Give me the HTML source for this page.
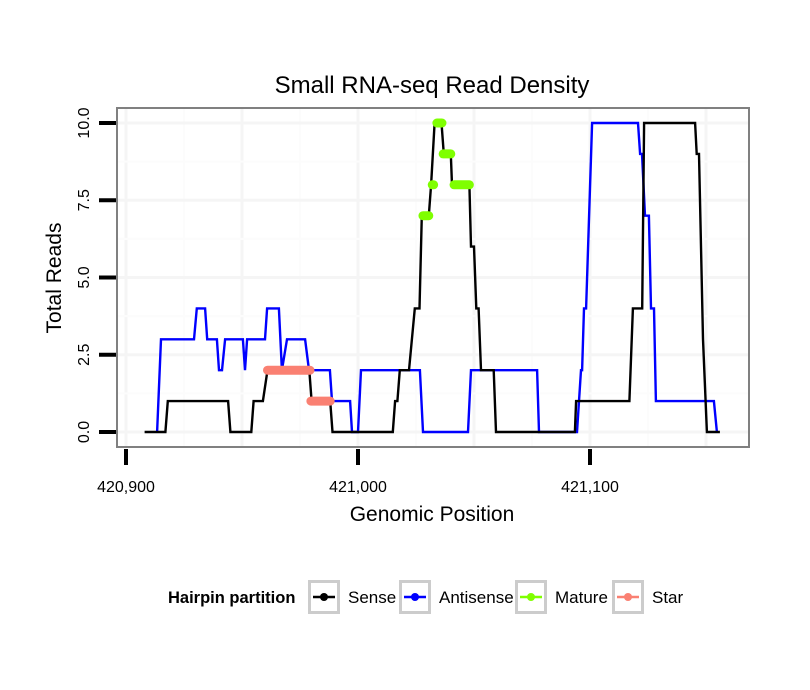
<!DOCTYPE html>
<html><head><meta charset="utf-8"><style>
body{margin:0;background:#fff;}
svg{display:block;font-family:"Liberation Sans",Arial,sans-serif;}
</style></head><body>
<svg id="chart" width="810" height="690" viewBox="0 0 810 690">
<rect x="0" y="0" width="810" height="690" fill="#fff"/>
<text x="432" y="93" text-anchor="middle" font-size="24" fill="#000">Small RNA-seq Read Density</text>
<g id="grid"></g>
<g id="series"></g>
<rect x="117" y="108" width="632" height="339" fill="none" stroke="#808080" stroke-width="2"/>
<g id="axes"></g>
<text x="432" y="521" text-anchor="middle" font-size="21">Genomic Position</text>
<text transform="translate(61,278) rotate(-90)" text-anchor="middle" font-size="21">Total Reads</text>
<g id="legend">
<text x="168" y="603" font-size="16.5" font-weight="bold">Hairpin partition</text>
</g>
</svg>
<script>
const xTicks=[420900,421000,421100];
const xTickLabels=["420,900","421,000","421,100"];
const yTicks=[0,2.5,5,7.5,10];
const yTickLabels=["0.0","2.5","5.0","7.5","10.0"];
const senseX=[420908,420917,420918,420944,420945,420954,420955,420959,420961,420979,420980,420988,420989,421015,421016,421017,421018,421022,421024.5,421026.5,421027.5,421030.5,421031.5,421033,421036,421037,421040,421040.5,421048,421048.7,421050,421051,421052,421053,421058.5,421059.5,421093.5,421094,421117,421118.5,421122.5,421123.3,421145.3,421146,421147,421148.7,421150.4,421156];
const senseY=[0,0,1,1,0,0,1,1,2,2,1,1,0,0,1,1,2,2,4,4,7,7,8,10,10,9,9,8,8,6,6,4,4,2,2,0,0,1,1,4,4,10,10,9,9,3,0,0];
const antiX=[420913.4,420915.1,420929.3,420930.5,420934.1,420935,420939.2,420940.1,420941.4,420942.7,420950.4,420951.3,420952.2,420959.9,420960.8,420965.9,420967.2,420969.4,420977.2,420978.9,420987.9,420988.8,420996.6,420997.4,421000,421001.3,421026.7,421028,421047.4,421048.7,421077.2,421078,421094.4,421096.1,421096.6,421097.4,421098.3,421100.9,421120.7,421121.6,421122.4,421123.7,421125.4,421126.3,421127.6,421128.4,421153.4,421154.7];
const antiY=[0,3,3,4,4,3,3,2,2,3,3,2,3,3,4,4,2,3,3,2,2,1,1,0,0,2,2,0,0,2,2,0,0,2,2,4,4,10,10,9,9,7,7,4,4,1,1,0];
const matureStart=[421028,421032,421034,421036.7,421041.4];
const matureEnd=[421030.5,421032.6,421036.2,421040,421048];
const matureY=[7,8,10,9,8];
const starStart=[420961,420979.7];
const starEnd=[420979.3,420988];
const starY=[2,1];
const legendLabels=["Sense","Antisense","Mature","Star"];
const legendColors=["#000000","#0000ff","#7fff00","#fa8072"];

const NS="http://www.w3.org/2000/svg";
function X(v){return 126+(v-420900)*2.32;}
function Y(v){return 432-v*30.9;}
function mk(tag,attrs,parent){const e=document.createElementNS(NS,tag);for(const k in attrs)e.setAttribute(k,attrs[k]);parent.appendChild(e);return e;}
const grid=document.getElementById('grid'),ser=document.getElementById('series'),axes=document.getElementById('axes'),leg=document.getElementById('legend');
for(let v=420900;v<=421150;v+=25){const x=X(v);if(x<118||x>748)continue;
 const l=mk('line',{x1:x,x2:x,y1:109,y2:446,stroke:v%50===0?'#f5f5f5':'#fcfcfc','stroke-width':v%50===0?3:2},grid);
 }
for(let v=0;v<=11;v+=1.25){const y=Y(v);if(y<109||y>446)continue;
 const l=mk('line',{x1:118,x2:748,y1:y,y2:y,stroke:(v%2.5===0)?'#f5f5f5':'#fcfcfc','stroke-width':(v%2.5===0)?3:2},grid);
 }
function path(xs,ys){return xs.map((x,i)=>(i?'L':'M')+X(x).toFixed(1)+','+Y(ys[i]).toFixed(1)).join('');}
const a=mk('path',{d:path(antiX,antiY),fill:'none',stroke:'#0000ff','stroke-width':2.4},ser);

const s=mk('path',{d:path(senseX,senseY),fill:'none',stroke:'#000','stroke-width':2.4},ser);

for(let i=0;i<starY.length;i++){const l=mk('line',{x1:X(starStart[i]),x2:X(starEnd[i]),y1:Y(starY[i]),y2:Y(starY[i]),stroke:'#fa8072','stroke-width':9,'stroke-linecap':'round'},ser);
 }
for(let i=0;i<matureY.length;i++){const l=mk('line',{x1:X(matureStart[i]),x2:X(matureEnd[i]),y1:Y(matureY[i]),y2:Y(matureY[i]),stroke:'#7fff00','stroke-width':9,'stroke-linecap':'round'},ser);
 }
xTicks.forEach((v,i)=>{const x=X(v);
 const t=mk('line',{x1:x,x2:x,y1:449,y2:465,stroke:'#000','stroke-width':4},axes);
 
 const tx=mk('text',{x:x,y:492,'text-anchor':'middle','font-size':16},axes);tx.textContent=xTickLabels[i];
 });
yTicks.forEach((v,i)=>{const y=Y(v);
 const t=mk('line',{x1:99,x2:116,y1:y,y2:y,stroke:'#000','stroke-width':4},axes);
 
 const tx=mk('text',{transform:`translate(89,${y}) rotate(-90)`,'text-anchor':'middle','font-size':16},axes);tx.textContent=yTickLabels[i];
 });
const boxX=[308,399,515,612];
legendLabels.forEach((lab,i)=>{const bx=boxX[i];
 const g=mk('g',{},leg);
 
 mk('rect',{x:bx+1.5,y:581.5,width:29,height:31,fill:'#fff',stroke:'#cccccc','stroke-width':3},g);
 mk('line',{x1:bx+5,x2:bx+27,y1:597,y2:597,stroke:legendColors[i],'stroke-width':2.4},g);
 mk('circle',{cx:bx+16,cy:597,r:4,fill:legendColors[i]},g);
 const t=mk('text',{x:bx+40,y:603,'font-size':17},g);t.textContent=lab;});
</script>
</body></html>
